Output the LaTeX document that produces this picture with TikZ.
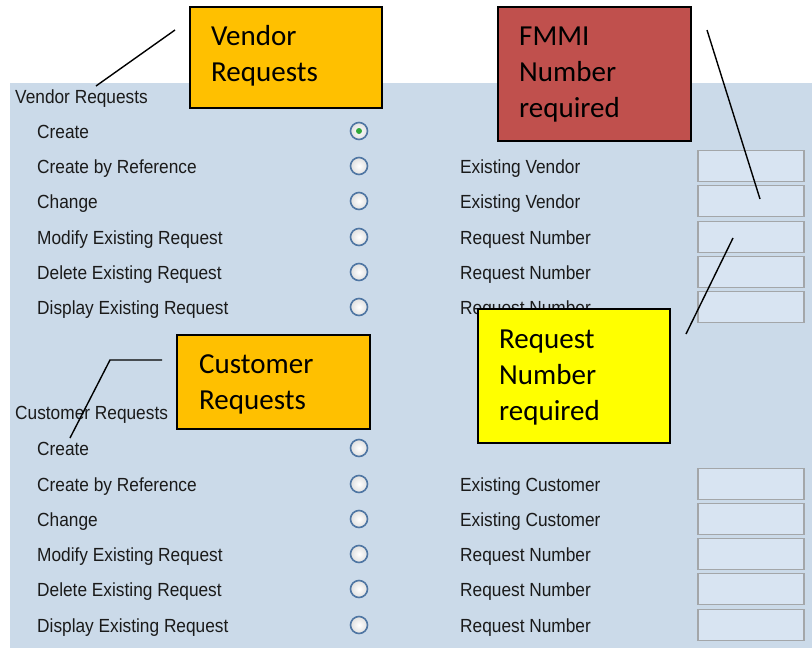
\documentclass[tikz,border=0pt]{standalone}
\usepackage{fontspec}
\setmainfont{Liberation Sans}
\newfontfamily\uifont[FakeStretch=0.91]{Liberation Sans}
\newfontfamily\callfont{Carlito}
\definecolor{panelbg}{HTML}{CBDAE9}
\definecolor{uitext}{HTML}{1A1A1A}
\definecolor{radioedge}{HTML}{4F76A3}
\definecolor{fieldedge}{HTML}{A3A6A9}
\definecolor{fieldfill}{HTML}{D8E4F2}
\definecolor{orangeC}{HTML}{FFC000}
\definecolor{redC}{HTML}{C0504D}
\definecolor{yellowC}{HTML}{FFFF00}
\definecolor{greendot}{HTML}{2FA83A}
\begin{document}
\begin{tikzpicture}[x=1pt,y={(0pt,-1pt)},
  ui/.style={font=\uifont\fontsize{19}{22}\selectfont, text=uitext, inner sep=0pt, anchor=base west},
  radio/.style={circle, draw=radioedge, line width=1.6pt, minimum size=17pt, inner sep=0pt, inner color=white, outer color=gray!25},
  field/.style={draw=fieldedge, fill=fieldfill, line width=1.5pt, minimum width=106pt, minimum height=31pt, inner sep=0pt},
  callout/.style={draw=black, line width=2pt, inner sep=0pt},
  ctext/.style={font=\callfont\fontsize{29}{36}\selectfont, align=left, anchor=base west, inner sep=0pt, text=black},
  leader/.style={draw=black, line width=1.4pt}
]
\useasboundingbox (0,0) rectangle (812,648);
\fill[white] (0,0) rectangle (812,648);
\fill[panelbg] (10,83) rectangle (812,648);

% Vendor section
\node[ui] (vhead) at (15,103) {Vendor Requests};
\foreach \i/\yy/\lab in {1/131/Create, 2/166/Create by Reference, 3/201/Change, 4/237/Modify Existing Request, 5/272/Delete Existing Request, 6/307/Display Existing Request}{
  \node[ui] (vl\i) at (37,\yy+7) {\lab};
  \node[radio] (vr\i) at (359,\yy) {};
}
\fill[greendot] (vr1.center) circle (3pt);
\foreach \i/\yy/\lab in {2/166/Existing Vendor, 3/201/Existing Vendor, 4/237/Request Number, 5/272/Request Number, 6/307/Request Number}{
  \node[ui] (vt\i) at (460,\yy+7) {\lab};
  \node[field] (vf\i) at (751,\yy) {};
}

% Customer section
\node[ui] (chead) at (15,419) {Customer Requests};
\foreach \i/\yy/\lab in {1/448/Create, 2/484/Create by Reference, 3/519/Change, 4/554/Modify Existing Request, 5/589/Delete Existing Request, 6/625/Display Existing Request}{
  \node[ui] (cl\i) at (37,\yy+7) {\lab};
  \node[radio] (cr\i) at (359,\yy) {};
}
\foreach \i/\yy/\lab in {2/484/Existing Customer, 3/519/Existing Customer, 4/554/Request Number, 5/589/Request Number, 6/625/Request Number}{
  \node[ui] (ct\i) at (460,\yy+7) {\lab};
  \node[field] (cf\i) at (751,\yy) {};
}

% Callouts (text anchored at the baseline of its last line)
\node[callout, fill=orangeC, minimum width=192pt, minimum height=101pt] (vendorbox) at (286,57.5) {};
\node[ctext] (vendortxt) at (211,81) {Vendor\\Requests};
\node[callout, fill=redC, minimum width=193pt, minimum height=134pt] (fmmibox) at (594.5,74) {};
\node[ctext] (fmmitxt) at (519,117) {FMMI\\Number\\required};
\node[callout, fill=yellowC, minimum width=192pt, minimum height=134pt] (reqbox) at (574,376) {};
\node[ctext] (reqtxt) at (499,420) {Request\\Number\\required};
\node[callout, fill=orangeC, minimum width=193pt, minimum height=94pt] (custbox) at (273.5,382) {};
\node[ctext] (custtxt) at (199,409) {Customer\\Requests};

% Leader lines
\coordinate (vs) at (175,30);
\coordinate (ve) at (96,86);
\coordinate (fs) at (707,30);
\coordinate (fe) at (760,199);
\coordinate (rs) at (686,334);
\coordinate (re) at (733,238);
\coordinate (cs) at (162,360);
\coordinate (cm) at (110,360);
\coordinate (ce) at (70,438);
\draw[leader] (vs) -- (ve);
\draw[leader] (fs) -- (fe);
\draw[leader] (rs) -- (re);
\draw[leader] (cs) -- (cm) -- (ce);
\end{tikzpicture}
\end{document}
